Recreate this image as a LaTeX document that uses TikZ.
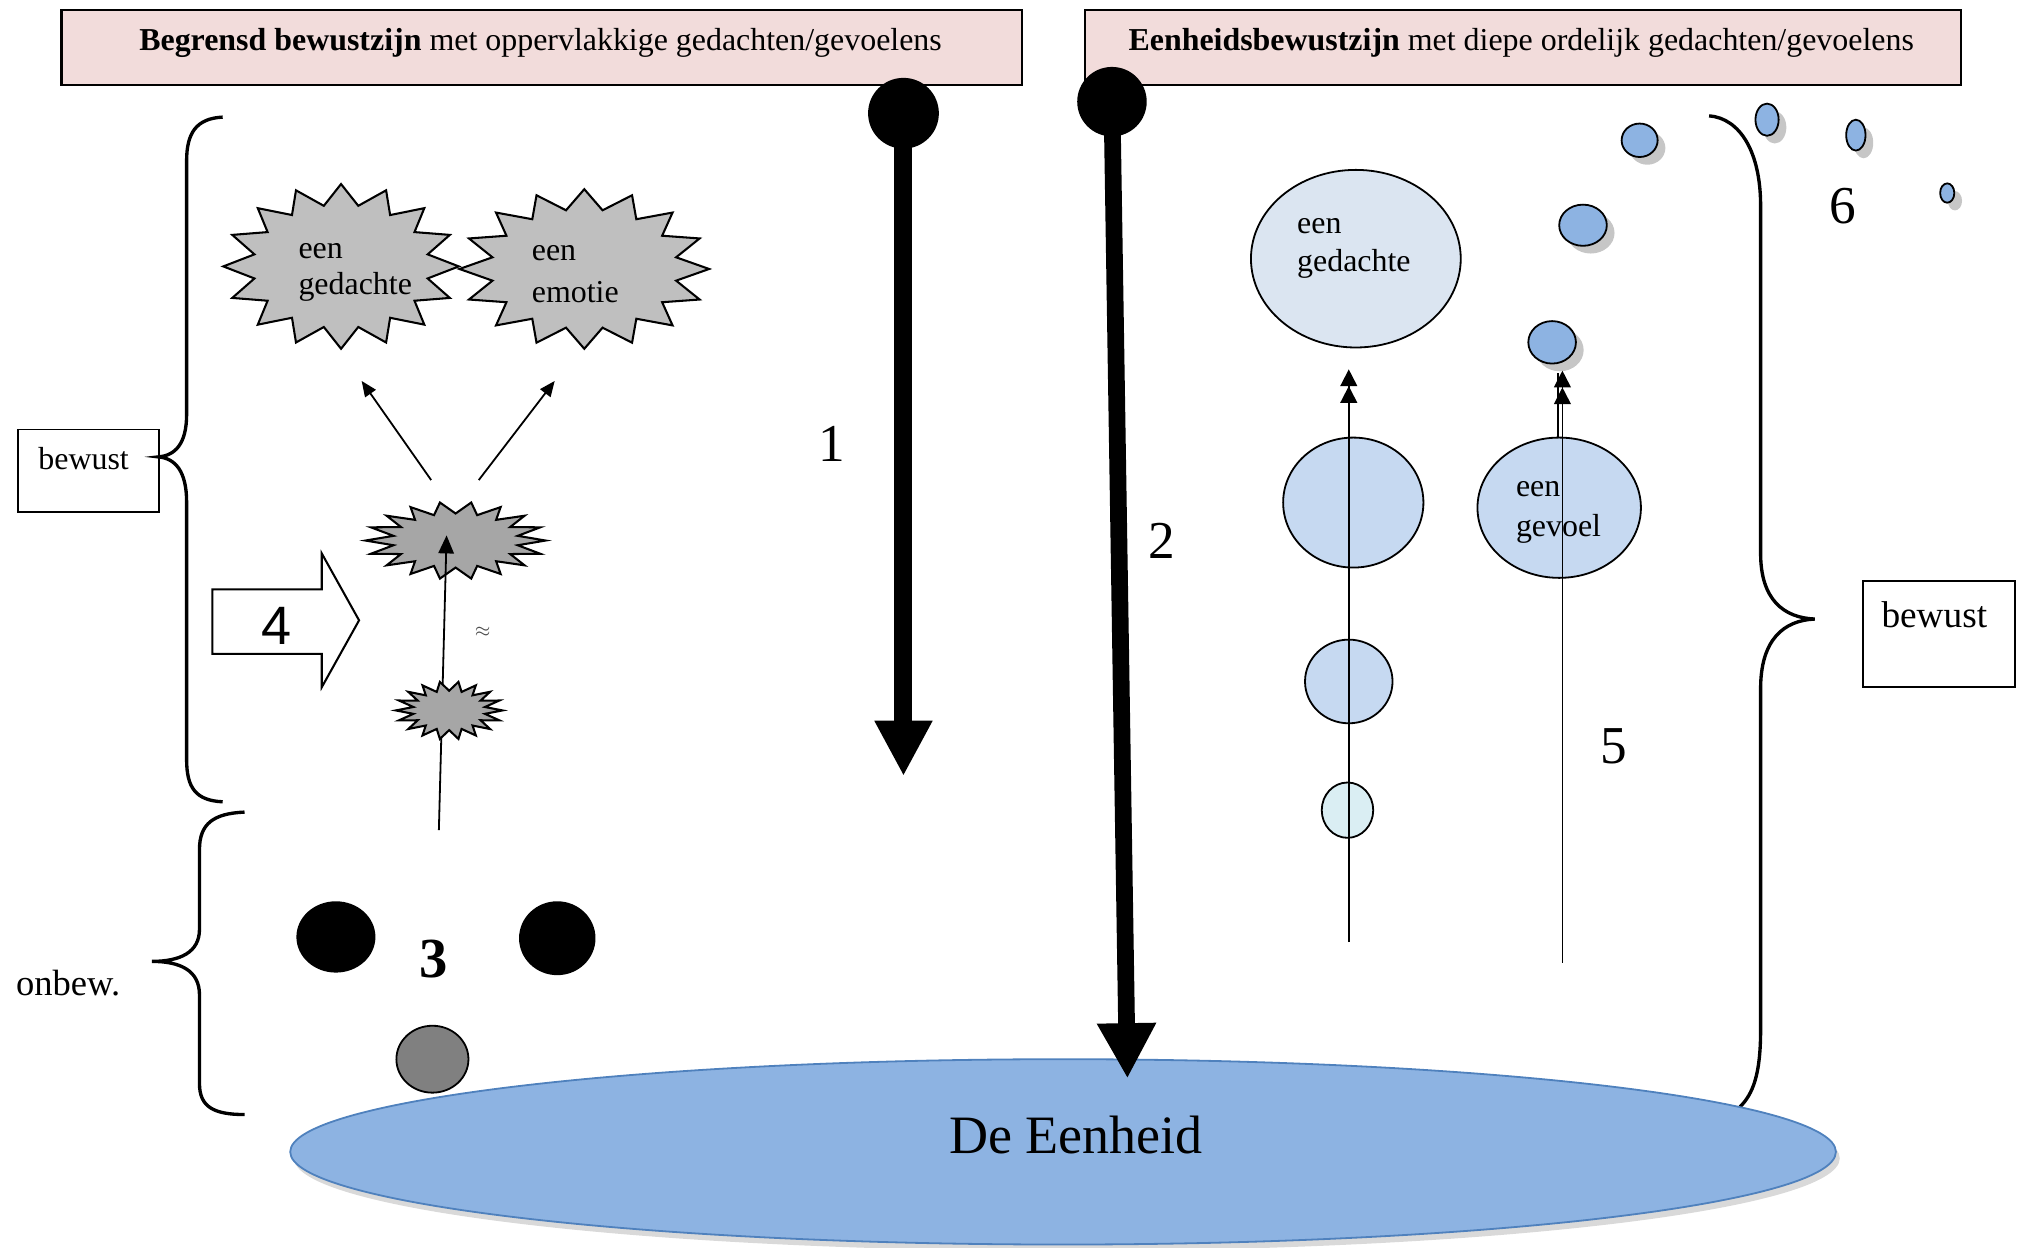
\documentclass[tikz,border=0pt]{standalone}
\usepackage{fontspec}
\setmainfont{Liberation Serif}
\newfontfamily\arialfont{Liberation Sans}
\usetikzlibrary{arrows.meta,shapes.geometric,shadows}
\definecolor{hdrpink}{HTML}{F2DCDB}
\definecolor{eenblue}{HTML}{8DB3E2}
\definecolor{eenborder}{HTML}{4F81BD}
\definecolor{lightblue}{HTML}{DBE5F1}
\definecolor{midblue}{HTML}{C6D9F1}
\definecolor{paleblue}{HTML}{DAEEF3}
\definecolor{burstgray}{HTML}{BFBFBF}
\definecolor{darkburst}{HTML}{A6A6A6}
\newcommand{\burstat}[8]{%
  \draw[burstline, fill=#8] plot[samples at={0,1,...,#5}, variable=\burstidx]
  ({#1+#3*(1-(1-#7)*mod(\burstidx,2))*cos(\burstidx*#6)},
   {#2+#4*(1-(1-#7)*mod(\burstidx,2))*sin(\burstidx*#6)}) -- cycle;}
\begin{document}
\begin{tikzpicture}[x=0.5pt,y=-0.5pt,
  hdr/.style={draw=black, line width=0.8pt, fill=hdrpink, inner sep=0, anchor=north west},
  lbl/.style={font=\fontsize{12.4}{14}\selectfont, inner sep=0},
  num/.style={font=\fontsize{20.7}{24}\selectfont, inner sep=0},
  bracepath/.style={line width=1.3pt},
  burstline/.style={draw=black, line width=0.8pt, line join=miter},
  thinline/.style={line width=0.7pt},
  ell/.style={ellipse, draw=black, line width=0.7pt, inner sep=0},
  lbox/.style={draw=black, line width=0.7pt, inner sep=0, anchor=north west},
  bubble/.style={ellipse, draw=black, line width=0.7pt, fill=eenblue, inner sep=0,
     drop shadow={shadow xshift=3pt, shadow yshift=-3pt, opacity=0.45}},
  bigtip/.style={-{Triangle[length=21.5pt,width=21pt]}},
  smalltip/.style={-{Triangle[length=6pt,width=5pt]}},
  dbltip/.style={-{Triangle[length=6.5pt,width=6.5pt] Triangle[length=6.5pt,width=6.5pt]}}
]
\useasboundingbox (0,0) rectangle (1568,969);

% header boxes
\node[hdr, minimum width=373pt, minimum height=29pt] (h1) at (47,7) {};
\node[lbl] (h1t) at (420,33) {\textbf{Begrensd bewustzijn} met oppervlakkige gedachten/gevoelens};
\node[hdr, minimum width=340.5pt, minimum height=29pt] (h2) at (842,7) {};
\node[lbl] (h2t) at (1182,33) {\textbf{Eenheidsbewustzijn} met diepe ordelijk gedachten/gevoelens};

% left bewust box and braces
\node[lbox, minimum width=55pt, minimum height=32pt] (bw1) at (13,333) {};
\node[lbl] (bw1t) at (65,356) {bewust};
\draw[bracepath] (173,91) .. controls (152,92) and (145,104) .. (145,125) -- (145,322)
  .. controls (145,345) and (136,354) .. (123,355)
  .. controls (136,356) and (145,366) .. (145,390) -- (145,590)
  .. controls (145,612) and (152,622) .. (173,623);
\draw[bracepath] (190,631) .. controls (166,632) and (155,640) .. (155,660) -- (155,722)
  .. controls (155,740) and (140,747) .. (118,747)
  .. controls (140,747) and (155,754) .. (155,773) -- (155,842)
  .. controls (155,860) and (166,866) .. (190,866);
\node[inner sep=0, font=\fontsize{14.2}{16}\selectfont] (onb) at (53,764) {onbew.};

% starbursts
\coordinate (bg) at (265,207);
\coordinate (be) at (454,209);
\burstat{265}{207}{91.5}{64}{31}{11.25}{0.75}{burstgray}
\burstat{454}{209}{97}{62}{31}{11.25}{0.75}{burstgray}
\node[lbl, align=left] (tg) at (276,212) {een\\gedachte};
\node[lbl, align=left, font=\fontsize{12.4}{16.5}\selectfont] (te) at (447,213) {een\\emotie};

\coordinate (mb) at (354,420);
\burstat{354}{420}{70}{30}{35}{10}{0.7}{darkburst}
\coordinate (m1) at (335,373); \coordinate (m1e) at (281,296);
\coordinate (m2) at (372,373); \coordinate (m2e) at (431,296);
\draw[thinline, smalltip] (m1) -- (m1e);
\draw[thinline, smalltip] (m2) -- (m2e);
\coordinate (vs) at (341,645); \coordinate (ve) at (347,416);
\draw[thinline, -{Triangle[length=7pt,width=6pt]}] (vs) -- (ve);
\coordinate (sb) at (349,552);
\burstat{349}{552}{41.5}{22.5}{35}{10}{0.68}{darkburst}
\node[inner sep=0, font=\fontsize{7}{8}\selectfont, text=black!70] (apx) at (375,491) {$\approx$};

% block arrow 4
\draw[line width=0.8pt, fill=white] (165,458) -- (250,458) -- (250,430) -- (279,482)
  -- (250,534) -- (250,508) -- (165,508) -- cycle;
\node[inner sep=0, font=\arialfont\fontsize{21}{24}\selectfont] (n4) at (215,486) {4};

% unconscious blobs
\node[ell, fill=black, minimum width=30pt, minimum height=27pt] (k1) at (261,728) {};
\node[ell, fill=black, minimum width=29pt, minimum height=28pt] (k2) at (433,729) {};
\node[ell, fill=black!50, minimum width=28pt, minimum height=26pt] (k3) at (336,823) {};
\node[inner sep=0, font=\bfseries\fontsize{22}{24}\selectfont] (n3) at (337,745) {3};

% right braces and box
\draw[bracepath] (1328,90) .. controls (1352,92) and (1368,118) .. (1368,160) -- (1368,430)
  .. controls (1368,466) and (1386,480) .. (1410,481)
  .. controls (1386,482) and (1368,497) .. (1368,535) -- (1368,800)
  .. controls (1368,835) and (1362,850) .. (1352,860);
\node[lbox, minimum width=59pt, minimum height=41pt] (bw2) at (1447,451) {};
\node[inner sep=0, font=\fontsize{14.5}{16}\selectfont] (bw2t) at (1503,478) {bewust};

% De Eenheid
\node[ellipse, draw=eenborder, line width=0.7pt, fill=eenblue, inner sep=0,
  minimum width=600.5pt, minimum height=72pt,
  drop shadow={shadow xshift=1.5pt, shadow yshift=-2.5pt, opacity=0.3}] (een) at (826,895) {};
\node[inner sep=0, font=\fontsize{21}{24}\selectfont] (eent) at (836,882) {De Eenheid};

% thick arrows
\node[circle, fill=black, inner sep=0, minimum size=27.5pt] (c1) at (702,88) {};
\coordinate (a1e) at (702,603);
\draw[line width=7pt, bigtip] (c1.center) -- (a1e);
\node[num] (n1) at (646,345) {1};
\node[circle, fill=black, inner sep=0, minimum size=27pt] (c2) at (864,79) {};
\coordinate (a2e) at (876,838);
\draw[line width=6.5pt, -{Triangle[length=21.5pt,width=21.5pt]}] (c2.center) -- (a2e);
\node[num] (n2) at (903,420) {2};

% right column ellipses
\node[ell, fill=lightblue, minimum width=81.5pt, minimum height=69pt] (eg) at (1053.5,201) {};
\node[lbl, align=left, font=\fontsize{12.4}{15}\selectfont] (egt) at (1052,193) {een\\gedachte};
\node[ell, fill=midblue, minimum width=54.5pt, minimum height=50.5pt] (ch1) at (1051.5,390.5) {};
\node[ell, fill=midblue, minimum width=34pt, minimum height=32.5pt] (ch2) at (1048,529.5) {};
\node[ell, fill=paleblue, minimum width=20pt, minimum height=21.5pt] (ch3) at (1047,629.5) {};
\node[ell, fill=midblue, minimum width=63.5pt, minimum height=54.5pt] (gv) at (1211.5,394.5) {};
\node[lbl, align=left, font=\fontsize{12.4}{15.5}\selectfont] (gvt) at (1211,398) {een\\gevoel};

\coordinate (l1s) at (1048,732); \coordinate (l1e) at (1048,287);
\draw[thinline, dbltip] (l1s) -- (l1e);
\coordinate (l2s) at (1214,748); \coordinate (l2e) at (1214,288);
\draw[thinline, dbltip] (l2s) -- (l2e);
\coordinate (l3s) at (1210.5,340); \coordinate (l3e) at (1210.5,290);
\draw[thinline] (l3s) -- (l3e);

% bubbles
\node[bubble, minimum width=18.5pt, minimum height=16.5pt] (b1) at (1206,266) {};
\node[bubble, minimum width=18.5pt, minimum height=16pt] (b2) at (1230,175) {};
\node[bubble, minimum width=14pt, minimum height=13pt] (b3) at (1274,109) {};
\node[bubble, minimum width=9pt, minimum height=12.5pt] (b4) at (1373,93) {};
\node[bubble, minimum width=7.5pt, minimum height=12pt] (b5) at (1442,105) {};
\node[bubble, minimum width=5.5pt, minimum height=7.5pt] (b6) at (1513,150) {};

\node[num] (n5) at (1254,580) {5};
\node[num] (n6) at (1432,160) {6};
\end{tikzpicture}
\end{document}
